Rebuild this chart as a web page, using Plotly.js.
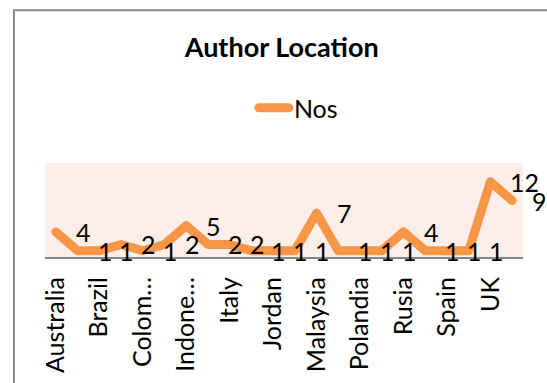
<!DOCTYPE html>
<html>
<head>
<meta charset="utf-8">
<script src="https://cdn.plot.ly/plotly-3.0.1.min.js"></script>
<style>
html,body{margin:0;padding:0;background:#fff;}
#chart{width:547px;height:383px;}
#chart .js-line{stroke-linejoin:round;stroke-linecap:round;}
</style>
</head>
<body>
<div id="chart"></div>
<script>
// Data
var countries = ["Australia","Bangladesh","Brazil","China","Colombia","India","Indonesia","Iran","Italy","Japan","Jordan","Korea","Malaysia","Pakistan","Polandia","Portugal","Rusia","Saudi Arabia","Spain","Turkey","UK","USA"];
var nos = [4,1,1,2,1,2,5,2,2,1,1,1,7,1,1,1,4,1,1,1,12,9];
var shownTicks = ["Australia","Brazil","Colombia","Indonesia","Italy","Jordan","Malaysia","Polandia","Rusia","Spain","UK"];
var shownTickText = ["Australia","Brazil","Colom…","Indone…","Italy","Jordan","Malaysia","Polandia","Rusia","Spain","UK"];
var seriesName = "Nos";
var chartTitle = "Author Location";

var FONT = "Lato, 'Open Sans', sans-serif";
var ORANGE = "#F79646";

var annotations = countries.map(function(c, i){
  return {x: c, y: nos[i], xref: "x", yref: "y", text: String(nos[i]),
          showarrow: false, xanchor: "left", yanchor: "middle", xshift: 18,
          font: {family: FONT, size: 25, color: "#000"}};
});

var trace = {
  x: countries, y: nos, type: "scatter", mode: "lines", name: seriesName,
  line: {color: ORANGE, width: 9},
  cliponaxis: false
};

var layout = {
  width: 547, height: 383,
  margin: {l: 45, r: 24, t: 163, b: 126},
  paper_bgcolor: "#ffffff",
  plot_bgcolor: "#FDEEE9",
  font: {family: FONT, size: 25, color: "#000"},
  title: {text: "<b>" + chartTitle + "</b>", font: {family: FONT, size: 27, color: "#000"},
          x: 0.515, xref: "container", xanchor: "center", y: 0.875, yref: "container", yanchor: "middle"},
  showlegend: true,
  legend: {orientation: "h", x: 0.437, xanchor: "left", y: 1.585, yanchor: "middle",
           font: {family: FONT, size: 25, color: "#000"}, bgcolor: "rgba(0,0,0,0)"},
  xaxis: {type: "category", range: [-0.5, countries.length - 0.5], tickmode: "array", tickvals: shownTicks, ticktext: shownTickText,
          tickangle: -90, showgrid: false, zeroline: false, showline: true, linecolor: "#868686", linewidth: 2,
          ticks: "", ticklabelstandoff: 8, tickfont: {family: FONT, size: 25, color: "#000"}, fixedrange: true},
  yaxis: {range: [0, 15], visible: false, showgrid: false, zeroline: false, fixedrange: true},
  annotations: annotations,
  shapes: [{type: "rect", xref: "paper", yref: "paper", x0: -0.065, x1: 2.0, y0: -3.0, y1: 2.625,
            line: {color: "#868686", width: 2}, fillcolor: "rgba(0,0,0,0)", layer: "below"}]
};

Plotly.newPlot("chart", [trace], layout, {displayModeBar: false, staticPlot: true});
</script>
</body>
</html>
